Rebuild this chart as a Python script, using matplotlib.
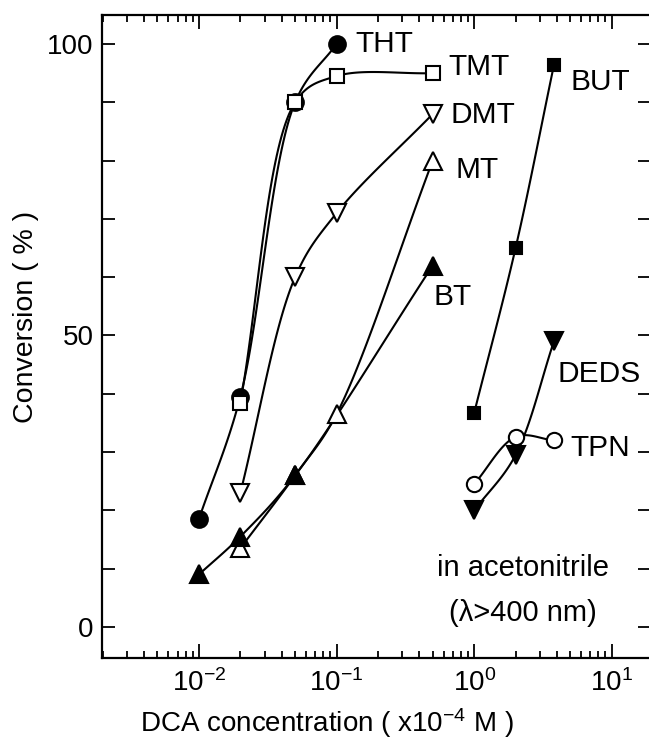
import numpy as np
import matplotlib
matplotlib.use('Agg')
import matplotlib.pyplot as plt
from matplotlib.ticker import FixedLocator, NullFormatter, LogLocator

plt.rcParams['font.family'] = ['Liberation Sans', 'DejaVu Sans']
plt.rcParams['mathtext.fontset'] = 'custom'
plt.rcParams['mathtext.rm'] = 'Liberation Sans'
plt.rcParams['mathtext.it'] = 'Liberation Sans:italic'

# Данные
tht_x = [0.01, 0.02, 0.05, 0.1]
tht_y = [18.5, 39.5, 90, 100]

tmt_x = [0.02, 0.05, 0.1, 0.5]
tmt_y = [38.5, 90, 94.5, 95]

dmt_x = [0.02, 0.05, 0.1, 0.5]
dmt_y = [23, 60, 71, 88]

mt_x = [0.02, 0.05, 0.1, 0.5]
mt_y = [13.5, 26, 36.5, 80]

bt_x = [0.01, 0.02, 0.05, 0.5]
bt_y = [9, 15.5, 26, 62]

but_x = [1, 2, 3.8]
but_y = [36.7, 65, 96.4]

deds_x = [1, 2, 3.8]
deds_y = [20, 29.5, 49]

tpn_x = [1, 2, 3.8]
tpn_y = [24.5, 32.6, 32]


def smooth(xs, ys, n=40):
    # Кривая Catmull-Rom в координатах (log x, y), нормированных на оси
    lx = np.log10(xs) / 4.0
    ly = np.array(ys, float) / 110.0
    p = np.column_stack([lx, ly])
    p = np.vstack([2 * p[0] - p[1], p, 2 * p[-1] - p[-2]])
    out = []
    for i in range(1, len(p) - 2):
        p0, p1, p2, p3 = p[i - 1], p[i], p[i + 1], p[i + 2]
        t0 = 0.0
        t1 = t0 + np.linalg.norm(p1 - p0) ** 0.5
        t2 = t1 + np.linalg.norm(p2 - p1) ** 0.5
        t3 = t2 + np.linalg.norm(p3 - p2) ** 0.5
        t = np.linspace(t1, t2, n)[:, None]
        a1 = (t1 - t) / (t1 - t0) * p0 + (t - t0) / (t1 - t0) * p1
        a2 = (t2 - t) / (t2 - t1) * p1 + (t - t1) / (t2 - t1) * p2
        a3 = (t3 - t) / (t3 - t2) * p2 + (t - t2) / (t3 - t2) * p3
        b1 = (t2 - t) / (t2 - t0) * a1 + (t - t0) / (t2 - t0) * a2
        b2 = (t3 - t) / (t3 - t1) * a2 + (t - t1) / (t3 - t1) * a3
        c = (t2 - t) / (t2 - t1) * b1 + (t - t1) / (t2 - t1) * b2
        out.append(c)
    c = np.vstack(out)
    return 10 ** (c[:, 0] * 4.0), c[:, 1] * 110.0


fig = plt.figure(figsize=(6.49, 7.45), dpi=100)
ax = fig.add_axes([0.157, 0.117, 0.845, 0.863])

series = [
    (tht_x, tht_y, 'o', 'k', 12),
    (tmt_x, tmt_y, 's', 'w', 9.5),
    (dmt_x, dmt_y, 'v', 'w', 12.5),
    (mt_x, mt_y, '^', 'w', 12.5),
    (bt_x, bt_y, '^', 'k', 12.5),
    (but_x, but_y, 's', 'k', 9),
    (deds_x, deds_y, 'v', 'k', 12.5),
    (tpn_x, tpn_y, 'o', 'w', 11),
]

for xs, ys, m, fc, ms in series:
    sx, sy = smooth(xs, ys)
    ax.plot(sx, sy, color='k', lw=1.5, zorder=2)
    ax.plot(xs, ys, m, ms=ms, mfc=fc, mec='k', mew=1.5, ls='none', zorder=3)

fs = 21.5
ax.text(0.136, 100, 'THT', fontsize=fs, va='center', ha='left')
ax.text(0.647, 96, 'TMT', fontsize=fs, va='center', ha='left')
ax.text(0.67, 87.8, 'DMT', fontsize=fs, va='center', ha='left')
ax.text(0.727, 78.4, 'MT', fontsize=fs, va='center', ha='left')
ax.text(0.504, 56.6, 'BT', fontsize=fs, va='center', ha='left')
ax.text(4.99, 93.5, 'BUT', fontsize=fs, va='center', ha='left')
ax.text(4.01, 43.4, 'DEDS', fontsize=fs, va='center', ha='left')
ax.text(5.0, 30.7, 'TPN', fontsize=fs, va='center', ha='left')
ax.text(2.27, 10.1, 'in acetonitrile', fontsize=21, va='center', ha='center')
ax.text(2.27, 2.4, '(λ>400 nm)', fontsize=21, va='center', ha='center')

ax.set_xscale('log')
ax.set_xlim(10 ** -2.705, 10 ** 1.28)
ax.set_ylim(-5.3, 105)

ax.xaxis.set_major_locator(FixedLocator([0.01, 0.1, 1, 10]))
ax.xaxis.set_minor_locator(LogLocator(base=10, subs=np.arange(2, 10), numticks=20))
ax.xaxis.set_minor_formatter(NullFormatter())
ax.yaxis.set_major_locator(FixedLocator([0, 50, 100]))
ax.yaxis.set_minor_locator(FixedLocator([10, 20, 30, 40, 60, 70, 80, 90]))

ax.tick_params(which='both', direction='in', top=True, right=True, width=1.3, labelsize=20)
ax.tick_params(axis='x', which='major', length=10, pad=8)
ax.tick_params(axis='x', which='minor', length=5)
ax.tick_params(axis='y', which='both', length=9, pad=6)
for s in ax.spines.values():
    s.set_linewidth(1.6)

ax.set_xlabel('DCA concentration ( x10$^{-4}$ M )', fontsize=20)
ax.set_ylabel('Conversion ( % )', fontsize=20.5)
ax.xaxis.set_label_coords(0.41, -0.075)
ax.yaxis.set_label_coords(-0.115, 0.53)

fig.savefig('out.png', dpi=100)
